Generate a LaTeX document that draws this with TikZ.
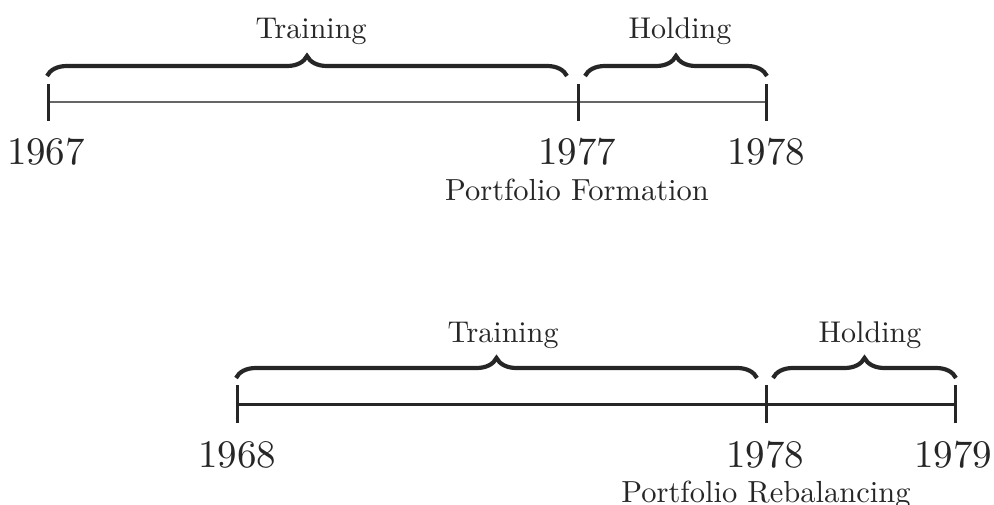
\documentclass[tikz,border=0pt]{standalone}
\usetikzlibrary{decorations.pathreplacing}
\begin{document}
\begin{tikzpicture}[x=1pt,y=-1pt,
  axisthin/.style={line width=1.2pt,draw=black!60},
  axisthick/.style={line width=3pt,draw=black!85},
  tickmark/.style={line width=3pt,draw=black!85},
  bracestyle/.style={line width=4.2pt,draw=black!85,decorate,decoration={brace,amplitude=20pt}},
  year/.style={anchor=base,inner sep=0pt,font=\fontsize{10}{12}\selectfont,scale=3.9,text=black!85},
  period/.style={anchor=base,inner sep=0pt,font=\fontsize{10}{12}\selectfont,scale=3.0,text=black!85},
  event/.style={anchor=base,inner sep=0pt,font=\fontsize{10}{12}\selectfont,scale=3.05,text=black!85}]
\useasboundingbox (0,0) rectangle (994,505);
% top timeline
\coordinate (a1) at (48,102);
\coordinate (a2) at (578,102);
\coordinate (a3) at (766,102);
\draw[axisthin] (a1) -- (a3);
\foreach \p in {a1,a2,a3} \draw[tickmark] ([yshift=-19pt]\p) -- ([yshift=18pt]\p);
\draw[bracestyle] (47,76) coordinate (tb1s) -- (567,76) coordinate (tb1e);
\draw[bracestyle] (585,76) coordinate (tb2s) -- (767,76) coordinate (tb2e);
\node[period] (tr1) at (311,39) {Training};
\node[period] (ho1) at (680,39) {Holding};
\node[year] (y1967) at (46,165) {1967};
\node[year] (y1977) at (577,165) {1977};
\node[year] (y1978a) at (766,165) {1978};
\node[event] (pf) at (577,201) {Portfolio Formation};
% bottom timeline
\coordinate (b1) at (237,404);
\coordinate (b2) at (766,404);
\coordinate (b3) at (955,404);
\draw[axisthick] (b1) -- (b3);
\foreach \p in {b1,b2,b3} \draw[tickmark] ([yshift=-19pt]\p) -- ([yshift=19pt]\p);
\draw[bracestyle] (236,378) coordinate (bb1s) -- (757,378) coordinate (bb1e);
\draw[bracestyle] (773,378) coordinate (bb2s) -- (956,378) coordinate (bb2e);
\node[period] (tr2) at (503,342) {Training};
\node[period] (ho2) at (870,342) {Holding};
\node[year] (y1968) at (237,467) {1968};
\node[year] (y1978b) at (765,467) {1978};
\node[year] (y1979) at (953,467) {1979};
\node[event] (pr) at (766,502) {Portfolio Rebalancing};
\end{tikzpicture}
\end{document}
